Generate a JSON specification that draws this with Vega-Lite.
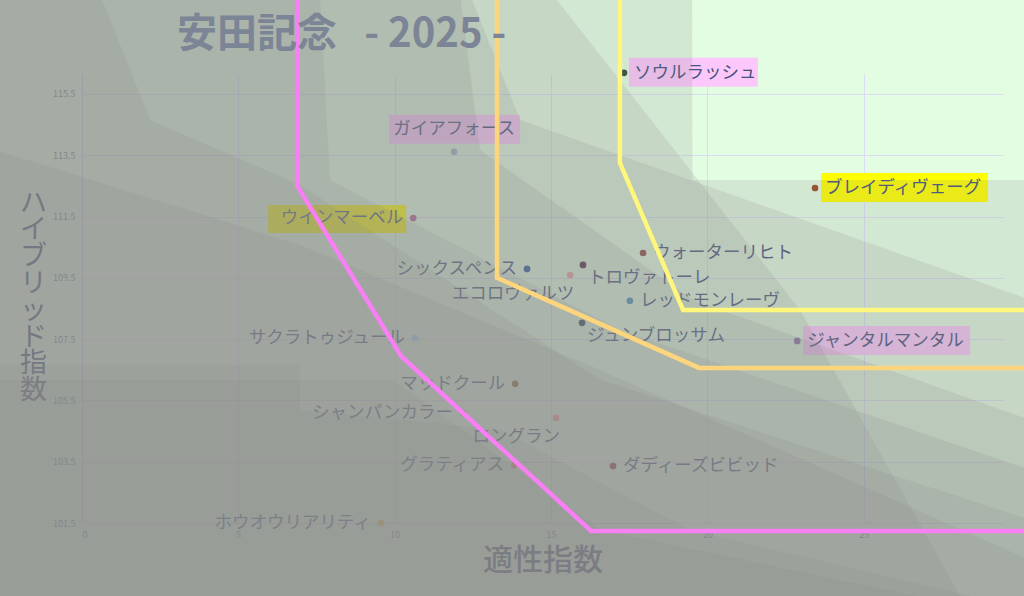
{
  "$schema": "https://vega.github.io/schema/vega-lite/v6.json",
  "width": 921,
  "height": 449,
  "autosize": {"type": "none"},
  "padding": {"left": 82, "top": 74, "right": 21, "bottom": 73},
  "background": "#e3fde2",
  "view": {"fill": "#e3fde2", "stroke": null},
  "config": {"font": "Noto Sans CJK JP"},
  "title": {
    "text": "安田記念\u00a0\u00a0\u00a0- 2025 -",
    "anchor": "start",
    "frame": "group",
    "dx": 95,
    "offset": -51,
    "dy": 58,
    "baseline": "bottom",
    "fontSize": 40,
    "fontWeight": "bold",
    "font": "Noto Sans CJK JP",
    "color": "#7b8595"
  },
  "datasets": {
    "horses": [
      {"name": "ソウルラッシュ", "x": 17.33, "y": 116.19, "side": "r", "hl": "pink"},
      {"name": "ブレイディヴェーグ", "x": 23.44, "y": 112.43, "side": "r", "hl": "yellow"},
      {"name": "ガイアフォース", "x": 11.9, "y": 113.61, "side": "u", "hl": "pink"},
      {"name": "ウインマーベル", "x": 10.59, "y": 111.45, "side": "l", "hl": "yellow"},
      {"name": "ウォーターリヒト", "x": 17.94, "y": 110.31, "side": "r"},
      {"name": "シックスペンス", "x": 14.23, "y": 109.79, "side": "l"},
      {"name": "トロヴァトーレ", "x": 16.02, "y": 109.92, "side": "dr"},
      {"name": "エコロヴァルツ", "x": 15.61, "y": 109.59, "side": "dl"},
      {"name": "レッドモンレーヴ", "x": 17.52, "y": 108.75, "side": "r"},
      {"name": "ジュンブロッサム", "x": 15.99, "y": 108.03, "side": "dr"},
      {"name": "ジャンタルマンタル", "x": 22.87, "y": 107.44, "side": "r", "hl": "pink"},
      {"name": "サクラトゥジュール", "x": 10.65, "y": 107.54, "side": "l"},
      {"name": "マッドクール", "x": 13.85, "y": 106.04, "side": "l"},
      {"name": "シャンパンカラー", "x": 12.18, "y": 105.09, "side": "l"},
      {"name": "ロングラン", "x": 15.16, "y": 104.93, "side": "dl"},
      {"name": "グラティアス", "x": 13.82, "y": 103.39, "side": "l"},
      {"name": "ダディーズビビッド", "x": 16.98, "y": 103.36, "side": "r"},
      {"name": "ホウオウリアリティ", "x": 9.56, "y": 101.5, "side": "l"}
    ],
    "zones": [
      {"g": "A", "x": -2.78, "y": 118.73, "b": 98},
      {"g": "A", "x": 19.51, "y": 118.73, "b": 98},
      {"g": "A", "x": 19.52, "y": 112.69, "b": 98},
      {"g": "A", "x": 30.32, "y": 112.69, "b": 98},
      {"g": "B", "x": -2.78, "y": 118.73, "b": 98},
      {"g": "B", "x": 15.06, "y": 118.73, "b": 98},
      {"g": "B", "x": 22.96, "y": 108.45, "b": 98},
      {"g": "B", "x": 28.08, "y": 99.12, "b": 98},
      {"g": "B", "x": 30.32, "y": 98.0, "b": 98},
      {"g": "C", "x": -2.78, "y": 118.73, "b": 98},
      {"g": "C", "x": 12.41, "y": 118.73, "b": 98},
      {"g": "C", "x": 14.01, "y": 114.65, "b": 98},
      {"g": "C", "x": 30.32, "y": 108.78, "b": 98},
      {"g": "D", "x": -2.78, "y": 118.73, "b": 98},
      {"g": "D", "x": 12.09, "y": 118.73, "b": 98},
      {"g": "D", "x": 12.73, "y": 113.67, "b": 98},
      {"g": "D", "x": 19.54, "y": 108.78, "b": 98},
      {"g": "D", "x": 30.32, "y": 104.86, "b": 98},
      {"g": "E", "x": -2.78, "y": 118.73, "b": 98},
      {"g": "E", "x": 7.61, "y": 118.73, "b": 98},
      {"g": "E", "x": 7.93, "y": 112.69, "b": 98},
      {"g": "E", "x": 17.21, "y": 107.8, "b": 98},
      {"g": "E", "x": 30.32, "y": 103.23, "b": 98},
      {"g": "F", "x": -2.78, "y": 118.73, "b": 98},
      {"g": "F", "x": 0.58, "y": 118.73, "b": 98},
      {"g": "F", "x": 2.18, "y": 114.65, "b": 98},
      {"g": "F", "x": 6.97, "y": 112.53, "b": 98},
      {"g": "F", "x": 16.57, "y": 106.17, "b": 98},
      {"g": "F", "x": 30.32, "y": 101.6, "b": 98},
      {"g": "G", "x": -2.78, "y": 113.67, "b": 98},
      {"g": "G", "x": 6.97, "y": 110.57, "b": 98},
      {"g": "G", "x": 16.57, "y": 106.49, "b": 98},
      {"g": "G", "x": 30.32, "y": 100.29, "b": 98},
      {"g": "H", "x": -2.78, "y": 106.66, "b": 98},
      {"g": "H", "x": 6.96, "y": 106.66, "b": 98},
      {"g": "H", "x": 6.97, "y": 105.19, "b": 98},
      {"g": "H", "x": 13.37, "y": 104.54, "b": 98},
      {"g": "H", "x": 19.44, "y": 101.27, "b": 98},
      {"g": "H", "x": 30.32, "y": 98.66, "b": 98},
      {"g": "I", "x": -2.78, "y": 106.17, "b": 98},
      {"g": "I", "x": 9.95, "y": 106.17, "b": 98},
      {"g": "I", "x": 16.57, "y": 101.27, "b": 98},
      {"g": "I", "x": 30.32, "y": 98.33, "b": 98}
    ],
    "bounds": [
      {"line": "pink", "i": 0, "x": 6.88, "y": 118.73},
      {"line": "pink", "i": 1, "x": 6.88, "y": 112.5},
      {"line": "pink", "i": 2, "x": 10.2, "y": 106.95},
      {"line": "pink", "i": 3, "x": 16.28, "y": 101.24},
      {"line": "pink", "i": 4, "x": 30.32, "y": 101.24},
      {"line": "orange", "i": 0, "x": 13.27, "y": 118.73},
      {"line": "orange", "i": 1, "x": 13.27, "y": 109.5},
      {"line": "orange", "i": 2, "x": 19.73, "y": 106.56},
      {"line": "orange", "i": 3, "x": 30.32, "y": 106.56},
      {"line": "yellow", "i": 0, "x": 17.2, "y": 118.73},
      {"line": "yellow", "i": 1, "x": 17.2, "y": 113.25},
      {"line": "yellow", "i": 2, "x": 19.22, "y": 108.45},
      {"line": "yellow", "i": 3, "x": 30.32, "y": 108.45}
    ]
  },
  "encoding": {
    "x": {
      "field": "x",
      "type": "quantitative",
      "scale": {"domain": [0, 29.45], "nice": false, "zero": false},
      "axis": {
        "values": [0, 5, 10, 15, 20, 25],
        "grid": true,
        "gridColor": "#d9def3",
        "ticks": false,
        "domain": false,
        "labelFontSize": 9,
        "labelColor": "#6f7f96",
        "labelPadding": 7,
        "title": "適性指数",
        "titleFontSize": 30,
        "titleFontWeight": 500,
        "titleColor": "#3c4a6a",
        "titlePadding": 6,
        "zindex": 0
      }
    },
    "y": {
      "field": "y",
      "type": "quantitative",
      "scale": {"domain": [101.5, 116.15], "nice": false, "zero": false},
      "axis": {
        "values": [101.5, 103.5, 105.5, 107.5, 109.5, 111.5, 113.5, 115.5],
        "format": ".1f",
        "grid": true,
        "gridColor": "#d9def3",
        "ticks": false,
        "domain": true,
        "domainColor": "#c9cde6",
        "labelFontSize": 9,
        "labelColor": "#6f7f96",
        "labelPadding": 7,
        "title": ["ハ", "イ", "ブ", "リ", "ッ", "ド", "指", "数"],
        "titleAngle": 0,
        "titleAlign": "center",
        "titleBaseline": "top",
        "titleX": -49,
        "titleY": 116,
        "titleFontSize": 27,
        "titleLineHeight": 26.8,
        "titleFontWeight": "normal",
        "titleColor": "#3c4a6a",
        "zindex": 0
      }
    }
  },
  "layer": [
    {
      "data": {"name": "horses"},
      "transform": [{"filter": "datum.hl != null && datum.side == 'r' && length(datum.name) == 7"}],
      "mark": {"type": "rect", "xOffset": 5, "x2Offset": 134, "yOffset": -15, "y2Offset": 14},
      "encoding": {
        "x2": {"field": "x"},
        "y2": {"field": "y"},
        "color": {"field": "hl", "type": "nominal", "scale": {"domain": ["pink", "yellow"], "range": ["#fcc8fc", "#ffff00"]}, "legend": null}
      }
    },
    {
      "data": {"name": "horses"},
      "transform": [{"filter": "datum.hl != null && datum.side == 'r' && length(datum.name) == 9"}],
      "mark": {"type": "rect", "xOffset": 6, "x2Offset": 173, "yOffset": -15, "y2Offset": 14},
      "encoding": {
        "x2": {"field": "x"},
        "y2": {"field": "y"},
        "color": {"field": "hl", "type": "nominal", "legend": null}
      }
    },
    {
      "data": {"name": "horses"},
      "transform": [{"filter": "datum.hl != null && datum.side == 'l'"}],
      "mark": {"type": "rect", "xOffset": -145, "x2Offset": -7, "yOffset": -13, "y2Offset": 15},
      "encoding": {
        "x2": {"field": "x"},
        "y2": {"field": "y"},
        "color": {"field": "hl", "type": "nominal", "legend": null}
      }
    },
    {
      "data": {"name": "horses"},
      "transform": [{"filter": "datum.hl != null && datum.side == 'u'"}],
      "mark": {"type": "rect", "xOffset": -65, "x2Offset": 66, "yOffset": -37, "y2Offset": -8},
      "encoding": {
        "x2": {"field": "x"},
        "y2": {"field": "y"},
        "color": {"field": "hl", "type": "nominal", "legend": null}
      }
    },
    {
      "data": {"name": "horses"},
      "mark": {"type": "circle", "size": 45, "opacity": 1},
      "encoding": {
        "fill": {
          "field": "name",
          "type": "nominal",
          "legend": null,
          "scale": {
            "domain": ["ソウルラッシュ", "ブレイディヴェーグ", "ガイアフォース", "ウインマーベル", "ウォーターリヒト", "シックスペンス", "トロヴァトーレ", "エコロヴァルツ", "レッドモンレーヴ", "ジュンブロッサム", "ジャンタルマンタル", "サクラトゥジュール", "マッドクール", "シャンパンカラー", "ロングラン", "グラティアス", "ダディーズビビッド", "ホウオウリアリティ"],
            "range": ["#2e4a3c", "#9c4a22", "#9eb4c8", "#b86090", "#8a4a44", "#2b5692", "#4b2040", "#f0a0a0", "#4a8cc0", "#303e52", "#886ea8", "#a8e0ff", "#806020", "#e0c080", "#ff9090", "#ff8080", "#8a3030", "#f0c040"]
          }
        }
      }
    },
    {
      "data": {"name": "horses"},
      "transform": [{"filter": "datum.side == 'r'"}],
      "mark": {"type": "text", "align": "left", "baseline": "middle", "dx": 10, "fontSize": 17.5, "color": "#45527a"},
      "encoding": {"text": {"field": "name"}}
    },
    {
      "data": {"name": "horses"},
      "transform": [{"filter": "datum.side == 'l'"}],
      "mark": {"type": "text", "align": "right", "baseline": "middle", "dx": -10, "fontSize": 17.5, "color": "#45527a"},
      "encoding": {"text": {"field": "name"}}
    },
    {
      "data": {"name": "horses"},
      "transform": [{"filter": "datum.side == 'u'"}],
      "mark": {"type": "text", "align": "center", "baseline": "middle", "dy": -23, "fontSize": 17.5, "color": "#45527a"},
      "encoding": {"text": {"field": "name"}}
    },
    {
      "data": {"name": "horses"},
      "transform": [{"filter": "datum.side == 'dr'"}],
      "mark": {"type": "text", "align": "left", "baseline": "middle", "dx": 5, "dy": 13, "fontSize": 17.5, "color": "#45527a"},
      "encoding": {"text": {"field": "name"}}
    },
    {
      "data": {"name": "horses"},
      "transform": [{"filter": "datum.side == 'dl'"}],
      "mark": {"type": "text", "align": "right", "baseline": "middle", "dx": 4, "dy": 19, "fontSize": 17.5, "color": "#45527a"},
      "encoding": {"text": {"field": "name"}}
    },
    {
      "data": {"name": "zones"},
      "mark": {"type": "area", "fill": "#8c8c8c", "fillOpacity": 0.18, "orient": "vertical"},
      "encoding": {
        "x": {"field": "x", "type": "quantitative"},
        "y": {"field": "y", "type": "quantitative"},
        "y2": {"field": "b"},
        "detail": {"field": "g", "type": "nominal"}
      }
    },
    {
      "data": {"name": "bounds"},
      "mark": {"type": "line", "strokeWidth": 4.5, "strokeJoin": "miter", "strokeCap": "butt"},
      "encoding": {
        "stroke": {"field": "line", "type": "nominal", "legend": null, "scale": {"domain": ["pink", "orange", "yellow"], "range": ["#f87ff4", "#fdd57d", "#fff67c"]}},
        "detail": {"field": "line"},
        "order": {"field": "i"}
      }
    }
  ]
}
